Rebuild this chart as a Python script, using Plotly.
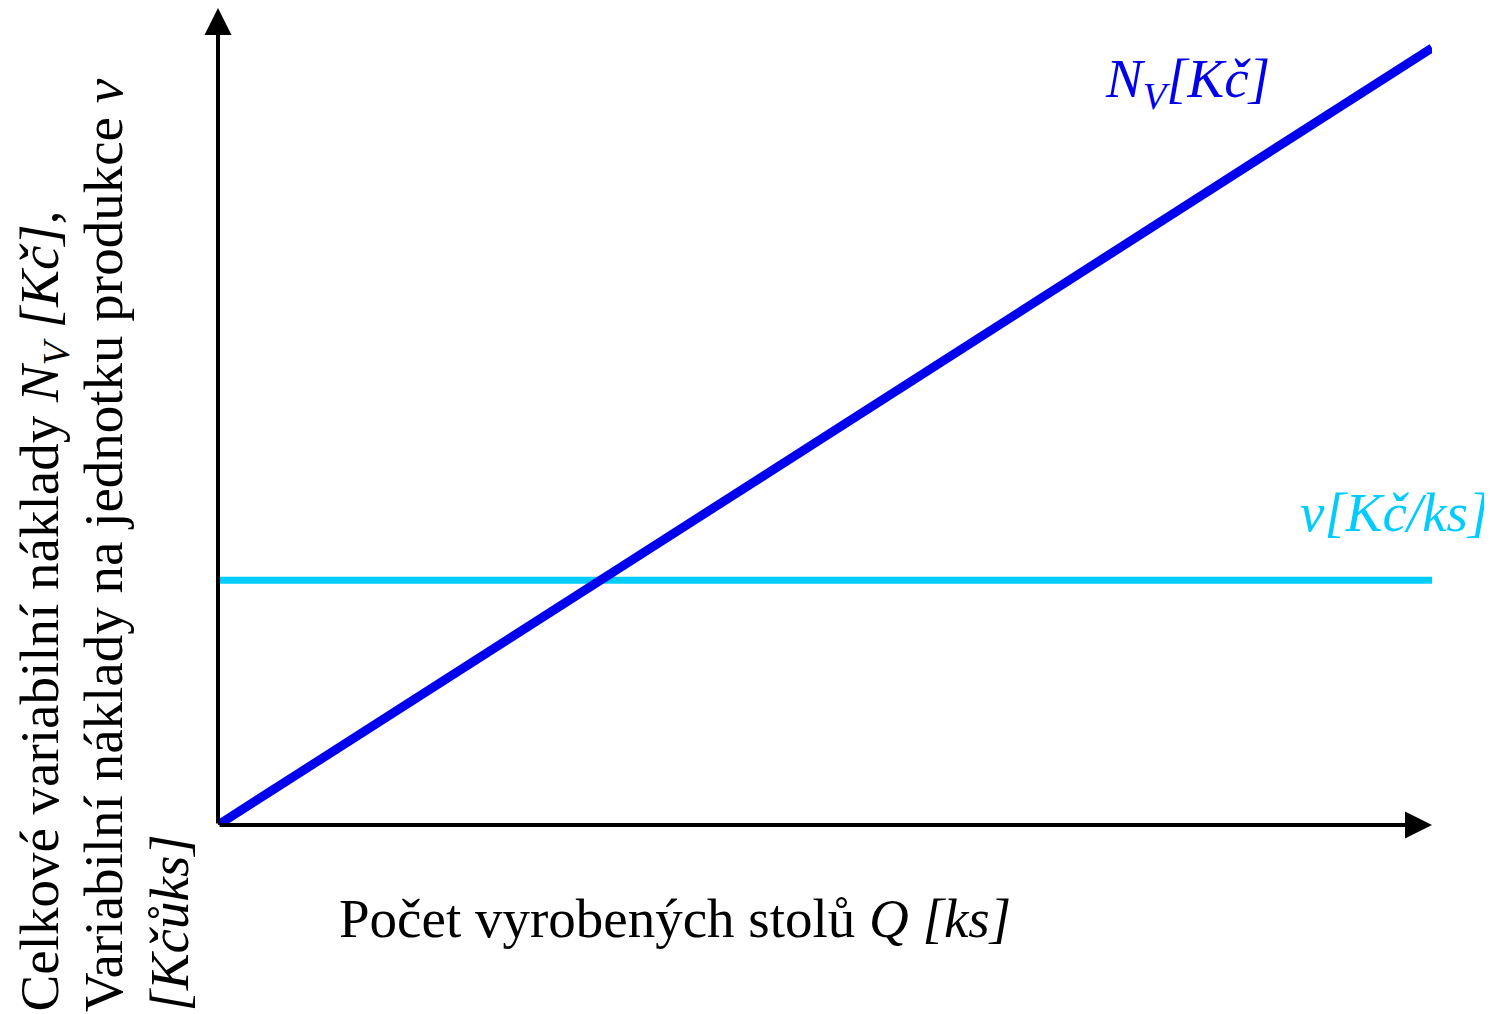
import plotly.graph_objects as go

# data
q = [0, 100]
nv_total = [0, 100]
v_unit = [31.5, 31.5]
x_axis_max = 100
y_axis_max = 105.15

FONT = "Liberation Serif"
OFF = 8  # default page body margin
W, H = 1492 - OFF, 1014 - OFF
L, R, T, B = 218 - OFF, 60, 0, 189
pw, ph = W - L - R, H - T - B


def px(xs):
    return (xs - OFF - L) / pw


def py(ys):
    return (H - B - (ys - OFF)) / ph


fig = go.Figure()
fig.add_trace(go.Scatter(x=q, y=v_unit, mode="lines", line=dict(color="#00CCFF", width=7),
                         cliponaxis=False, hoverinfo="skip"))
fig.add_trace(go.Scatter(x=q, y=nv_total, mode="lines", line=dict(color="#0000EE", width=9),
                         cliponaxis=False, hoverinfo="skip"))

ann = []
# axes with arrows
ann.append(dict(x=0, y=y_axis_max, ax=0, ay=0, xref="x", yref="y", axref="x", ayref="y",
                text="", showarrow=True, arrowhead=2, arrowsize=1.35, arrowwidth=4,
                arrowcolor="black", standoff=0, startstandoff=0))
ann.append(dict(x=x_axis_max, y=0, ax=0, ay=0, xref="x", yref="y", axref="x", ayref="y",
                text="", showarrow=True, arrowhead=2, arrowsize=1.35, arrowwidth=4,
                arrowcolor="black", standoff=0, startstandoff=0))

ann.append(dict(x=px(1103), y=py(82), xref="paper", yref="paper", showarrow=False,
                xanchor="left", yanchor="middle",
                text="<i>N<sub>V</sub>[Kč]</i>", font=dict(family=FONT, size=55, color="#0000EE")))
ann.append(dict(x=px(1298), y=py(512), xref="paper", yref="paper", showarrow=False,
                xanchor="left", yanchor="middle",
                text="<i>v[Kč/ks]</i>", font=dict(family=FONT, size=55, color="#00CCFF")))
ann.append(dict(x=px(337), y=py(918), xref="paper", yref="paper", showarrow=False,
                xanchor="left", yanchor="middle",
                text="Počet vyrobených stolů <i>Q [ks]</i>", font=dict(family=FONT, size=55, color="black")))

ylines = [
    (43, "Celkové variabilní náklady <i>N<sub>V</sub> [Kč]</i>,"),
    (104, "Variabilní náklady na jednotku produkce <i>v</i>"),
    (169, "<i>[Kčůks]</i>"),
]
for xc, t in ylines:
    ann.append(dict(x=px(xc), y=py(1014), xref="paper", yref="paper", showarrow=False,
                    textangle=-90, xanchor="center", yanchor="bottom",
                    text=t, font=dict(family=FONT, size=55, color="black")))

fig.update_layout(
    width=W, height=H,
    margin=dict(l=L, r=R, t=T, b=B),
    paper_bgcolor="white", plot_bgcolor="white",
    showlegend=False,
    xaxis=dict(range=[0, x_axis_max], visible=False),
    yaxis=dict(range=[0, y_axis_max], visible=False),
    annotations=ann,
)
fig.write_html("out.html")
